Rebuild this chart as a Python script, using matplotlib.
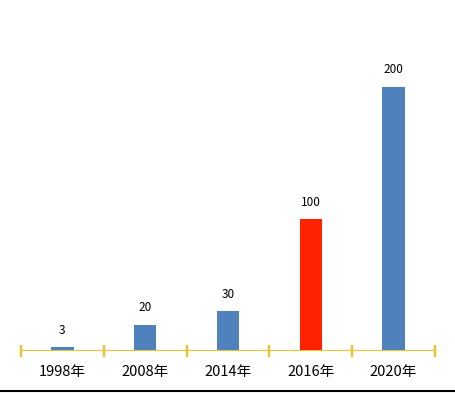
import matplotlib
matplotlib.use("Agg")
import matplotlib.pyplot as plt
from matplotlib.lines import Line2D

plt.rcParams['font.family'] = ['Noto Sans CJK SC', 'DejaVu Sans']

years = ['1998年', '2008年', '2014年', '2016年', '2020年']
values = [3, 20, 30, 100, 200]
colors = ['#4F81BD', '#4F81BD', '#4F81BD', '#FF2200', '#4F81BD']

fig = plt.figure(figsize=(4.56, 3.93), dpi=100)
ax = fig.add_axes([21 / 456, 42 / 393, 414 / 456, 304 / 393])

x = range(len(values))
bars = ax.bar(x, values, width=0.27, color=colors, zorder=2)
for b, v in zip(bars, values):
    ax.annotate(str(v), (b.get_x() + b.get_width() / 2, v), xytext=(0, 12),
                textcoords='offset points', ha='center', va='center', fontsize=8.5)

ax.set_xlim(-0.5, len(values) - 0.5)
ax.set_ylim(0, 230)

# yellow axis line with boundary ticks
axis_col = '#E8C32E'
ax.axhline(0, color=axis_col, lw=2.2, zorder=3)
for t in [i - 0.5 for i in range(len(values) + 1)]:
    ax.plot([t, t], [0, 0], marker='|', markersize=9, mew=1.6,
            color=axis_col, clip_on=False, zorder=3)

ax.set_xticks(list(x))
ax.set_xticklabels(years, fontsize=10.5)
ax.tick_params(axis='x', length=0, pad=10)
ax.set_yticks([])
for s in ax.spines.values():
    s.set_visible(False)

# black rule at the bottom of the picture
fig.add_artist(Line2D([0, 1], [2 / 393, 2 / 393], color='black', lw=1.5,
                      transform=fig.transFigure))

fig.savefig('out.png', dpi=100)
